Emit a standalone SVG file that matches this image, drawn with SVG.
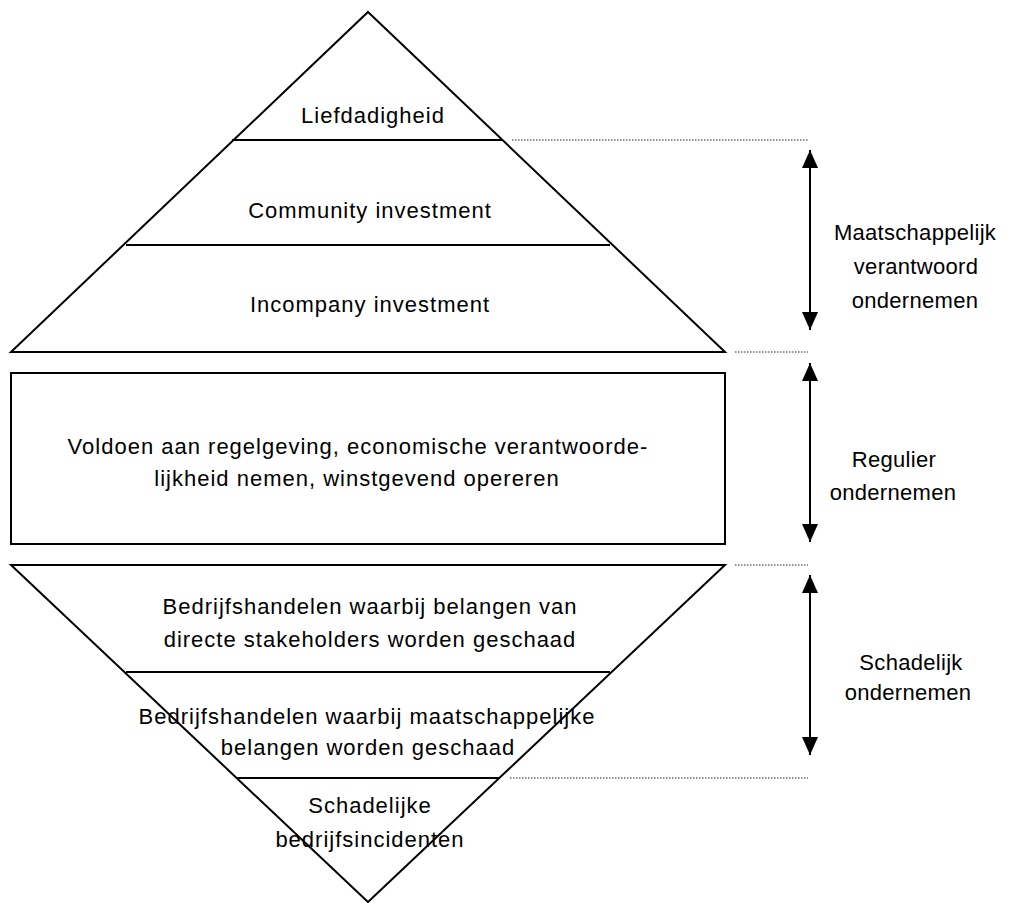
<svg xmlns="http://www.w3.org/2000/svg" width="1015" height="903" viewBox="0 0 1015 903">
<style>
.shape{fill:none;stroke:#000;stroke-width:2;stroke-linejoin:miter}
.div{stroke:#000;stroke-width:2}
.dot{stroke:#222;stroke-width:1;stroke-dasharray:1.5 1.5}
.arr{stroke:#000;stroke-width:2}
text{font-family:"Liberation Sans",Arial,sans-serif;font-size:22px;fill:#000;text-anchor:middle}
.in{letter-spacing:1px}
.lab{letter-spacing:0.3px}
</style>
<defs>
<marker id="ah" viewBox="0 0 18 16" refX="18" refY="8" markerWidth="18" markerHeight="16" markerUnits="userSpaceOnUse" orient="auto">
<path d="M0,0 L18,8 L0,16 Z" fill="#000"/>
</marker>
</defs>
<rect width="1015" height="903" fill="#fff"/>
<g id="top-pyramid">
<polygon class="shape" points="368,12 725,352 11,352"/>
<line class="div" x1="232" y1="140" x2="502" y2="140"/>
<line class="div" x1="126" y1="245" x2="610" y2="245"/>
<text class="in" x="373" y="123">Liefdadigheid</text>
<text class="in" x="370" y="218">Community investment</text>
<text class="in" x="370" y="312">Incompany investment</text>
</g>
<g id="regular-box">
<rect class="shape" x="11" y="373" width="714" height="171"/>
<text class="in" x="358" y="454">Voldoen aan regelgeving, economische verantwoorde-</text>
<text class="in" x="357" y="486">lijkheid nemen, winstgevend opereren</text>
</g>
<g id="bottom-pyramid">
<polygon class="shape" points="11,565 725,565 368,902"/>
<line class="div" x1="126" y1="672" x2="610" y2="672"/>
<line class="div" x1="236" y1="778" x2="500" y2="778"/>
<text class="in" x="370" y="614">Bedrijfshandelen waarbij belangen van</text>
<text class="in" x="370" y="647">directe stakeholders worden geschaad</text>
<text class="in" x="367" y="724">Bedrijfshandelen waarbij maatschappelijke</text>
<text class="in" x="368" y="755">belangen worden geschaad</text>
<text class="in" x="370" y="813">Schadelijke</text>
<text class="in" x="370" y="847">bedrijfsincidenten</text>
</g>
<g id="connectors">
<line class="dot" x1="512" y1="140" x2="808" y2="140"/>
<line class="dot" x1="735" y1="352" x2="808" y2="352"/>
<line class="dot" x1="735" y1="565" x2="808" y2="565"/>
<line class="dot" x1="510" y1="778" x2="808" y2="778"/>
<line class="arr" x1="810" y1="240" x2="810" y2="150" marker-end="url(#ah)"/>
<line class="arr" x1="810" y1="240" x2="810" y2="330" marker-end="url(#ah)"/>
<line class="arr" x1="810" y1="452" x2="810" y2="363" marker-end="url(#ah)"/>
<line class="arr" x1="810" y1="452" x2="810" y2="542" marker-end="url(#ah)"/>
<line class="arr" x1="810" y1="666" x2="810" y2="575" marker-end="url(#ah)"/>
<line class="arr" x1="810" y1="666" x2="810" y2="755" marker-end="url(#ah)"/>
</g>
<g id="label-mvo">
<text class="lab" x="915" y="240">Maatschappelijk</text>
<text class="lab" x="916" y="274">verantwoord</text>
<text class="lab" x="915" y="308">ondernemen</text>
</g>
<g id="label-regulier">
<text class="lab" x="894" y="467">Regulier</text>
<text class="lab" x="893" y="500">ondernemen</text>
</g>
<g id="label-schadelijk">
<text class="lab" x="911" y="670">Schadelijk</text>
<text class="lab" x="908" y="700">ondernemen</text>
</g>
</svg>
